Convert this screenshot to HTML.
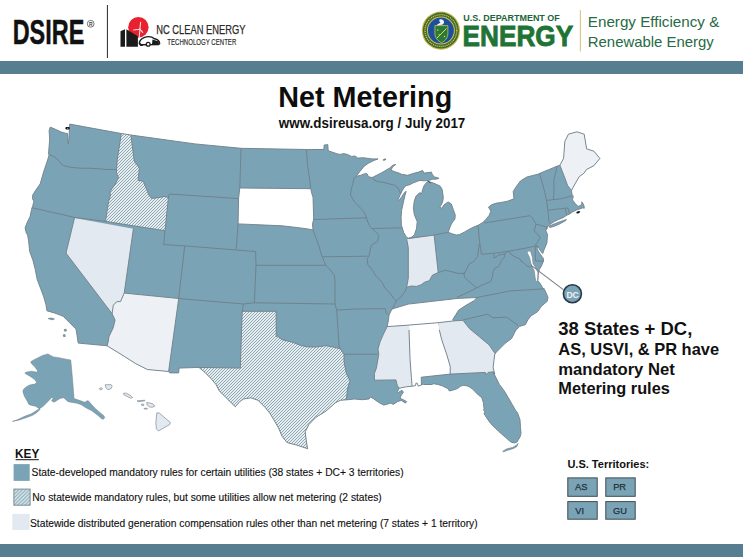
<!DOCTYPE html>
<html><head><meta charset="utf-8"><title>Net Metering</title>
<style>
html,body{margin:0;padding:0;background:#fff;}
body{width:743px;height:557px;overflow:hidden;position:relative;font-family:"Liberation Sans",sans-serif;}
svg{position:absolute;left:0;top:0;}
text{font-family:"Liberation Sans",sans-serif;}
</style></head><body>
<svg width="743" height="557" viewBox="0 0 743 557">
<defs>
<pattern id="hatch" patternUnits="userSpaceOnUse" width="3" height="3">
<rect width="3" height="3" fill="#e3eff2"/>
<path d="M-1,1 L1,-1 M0,3 L3,0 M2,4 L4,2" stroke="#8a9ca4" stroke-width="0.9"/>
</pattern>
<pattern id="hatch2" patternUnits="userSpaceOnUse" width="3.6" height="3.6" x="0.5" y="0.3">
<rect width="3.6" height="3.6" fill="#d8ecf2"/>
<path d="M-1,1 L1,-1 M0,3.6 L3.6,0 M2.6,4.6 L4.6,2.6" stroke="#86a2ad" stroke-width="1.1"/>
</pattern>
</defs>
<rect width="743" height="557" fill="#fff"/>
<!-- header -->
<text x="12.7" y="43.7" font-size="35.6" font-weight="bold" fill="#111" stroke="#111" stroke-width="0.5" textLength="71.6" lengthAdjust="spacingAndGlyphs">DSIRE</text>
<circle cx="90.7" cy="23.8" r="3.4" fill="none" stroke="#555" stroke-width="0.8"/>
<text x="90.7" y="25.6" font-size="5" font-weight="bold" text-anchor="middle" fill="#444">R</text>
<rect x="106.9" y="5" width="1.1" height="53" fill="#3a3a3a"/>
<!-- NC clean energy logo -->
<circle cx="138.4" cy="27.3" r="10.2" fill="#e8202f"/>
<g stroke="#fbe2e3" stroke-width="1.1" stroke-linecap="round" fill="none"><line x1="139.9" y1="29.2" x2="139.3" y2="37"/><line x1="139.9" y1="29.2" x2="140.6" y2="22.2"/><line x1="139.9" y1="29.2" x2="133.6" y2="30"/><line x1="139.9" y1="29.2" x2="142.7" y2="32.4"/></g>
<path d="M120.5,31.2 L125,29.2 L125,46.7 L120.5,46.7 Z" fill="#1c1a1b"/>
<path d="M126.4,29.2 L137.9,36.2 L137.9,46.7 L126.4,46.7 Z" fill="#1c1a1b"/>
<path d="M139.3,43.5 C139.5,40.5 141.5,38.6 144.5,37.4 C148,36.2 152,36.6 154.5,38.8 C157.5,39.4 159.6,40.8 159.6,43.6 L158.5,44.6 L140.5,44.8 Z" fill="#fff" stroke="#1c1a1b" stroke-width="1.4"/>
<path d="M139,40.5 C140,43 141.5,45 143.5,46 L140.5,46 C139.2,44.5 138.8,42.5 139,40.5 Z" fill="#1c1a1b"/>
<path d="M152.5,39.5 L158.8,41.5 L158.8,44 L152,44 Z" fill="#1c1a1b"/>
<circle cx="148.2" cy="44.3" r="1.9" fill="#fff" stroke="#1c1a1b" stroke-width="1.3"/>
<text x="156.2" y="34.3" font-size="12.6" fill="#2a2a2a" stroke="#2a2a2a" stroke-width="0.25" textLength="89.2" lengthAdjust="spacingAndGlyphs">NC CLEAN ENERGY</text>
<text x="167.3" y="45.4" font-size="8.4" fill="#2a2a2a" stroke="#2a2a2a" stroke-width="0.15" textLength="69" lengthAdjust="spacingAndGlyphs">TECHNOLOGY CENTER</text>
<!-- DOE seal -->
<circle cx="440.9" cy="30.6" r="19.1" fill="#c9b84e"/>
<circle cx="440.9" cy="30.6" r="18" fill="#3d6a2c"/>
<circle cx="440.9" cy="30.6" r="15.9" fill="none" stroke="#d7c55a" stroke-width="1.3" stroke-dasharray="1.1 0.9"/>
<circle cx="440.9" cy="30.6" r="14" fill="#d2bf55"/>
<circle cx="440.9" cy="30.6" r="13" fill="#1c4f9d"/>
<path d="M434.9,25.6 L447.9,25.6 L447.9,33.5 C447.9,38 445,41 441.5,42.8 C438,41 434.9,38 434.9,33.5 Z" fill="#2a7a33" stroke="#e2cf62" stroke-width="0.7"/>
<path d="M437,38 L446.5,28.5" stroke="#e8d66a" stroke-width="1"/>
<circle cx="437.8" cy="30" r="0.7" fill="#e8d66a"/><circle cx="444.5" cy="36.5" r="0.7" fill="#e8d66a"/><circle cx="439" cy="34.5" r="0.6" fill="#e8d66a"/>
<path d="M439.5,19.5 C441.5,18.8 443.8,19.8 444,21.8 C444.2,23.6 443,24.6 441.8,24.8 L436.5,25.4 C437.5,24 439.5,23.6 440.5,22.6 C439.5,22 439,20.8 439.5,19.5 Z" fill="#f4f4f4"/>
<text x="463.3" y="21" font-size="9.4" font-weight="bold" fill="#22643a" textLength="96.5" lengthAdjust="spacingAndGlyphs">U.S. DEPARTMENT OF</text>
<text x="462.6" y="45.9" font-size="29.5" font-weight="bold" fill="#1f7435" textLength="110.5" lengthAdjust="spacingAndGlyphs" stroke="#1f7435" stroke-width="0.9">ENERGY</text>
<rect x="579.8" y="10" width="1.2" height="41.5" fill="#d9cc8a"/>
<text x="587.8" y="26.7" font-size="15" fill="#276a45" textLength="131.5" lengthAdjust="spacingAndGlyphs">Energy Efficiency &amp;</text>
<text x="587.8" y="46.5" font-size="15" fill="#276a45" textLength="126" lengthAdjust="spacingAndGlyphs">Renewable Energy</text>
<!-- top bar -->
<rect x="0" y="61" width="743" height="13" fill="#577d91"/>
<!-- title -->
<text x="278.2" y="106.7" font-size="29.4" font-weight="bold" fill="#0d0d0d" textLength="174" lengthAdjust="spacingAndGlyphs">Net Metering</text>
<text x="278.8" y="127.6" font-size="14.6" font-weight="bold" fill="#111" textLength="186.5" lengthAdjust="spacingAndGlyphs">www.dsireusa.org / July 2017</text>
<!-- map -->
<g>
<path d="M50.3,127.1 L55.8,129.5 L61.2,132.0 L65.4,133.2 L67.4,133.4 L67.9,139.2 L68.3,143.5 L68.9,139.0 L69.2,133.0 L69.7,124.1 L121.3,133.5 L130.9,135.0 L195.0,143.9 L241.0,148.3 L306.4,149.5 L323.9,149.5 L324.1,145.1 L327.8,144.6 L328.2,150.7 L333.0,152.4 L337.8,154.0 L340.2,154.4 L343.5,153.6 L347.5,154.4 L351.5,156.4 L355.0,156.0 L357.8,158.1 L363.4,157.7 L365.8,158.1 L372.3,158.9 L378.0,158.9 L373.9,160.5 L368.3,163.3 L364.2,166.2 L360.2,171.0 L356.2,176.3 L360.2,175.4 L365.8,173.4 L367.5,174.2 L368.3,176.7 L372.3,177.5 L377.2,175.0 L382.0,172.6 L386.0,170.2 L390.1,167.8 L392.5,165.3 L395.7,164.5 L392.5,167.0 L390.9,170.2 L394.9,171.8 L400.0,173.4 L401.2,174.2 L407.7,175.3 L413.1,173.5 L418.4,172.1 L422.7,170.5 L423.8,173.1 L428.1,172.6 L431.4,172.1 L432.4,174.8 L434.6,176.9 L438.9,178.2 L436.7,179.1 L432.4,179.3 L428.0,180.6 L423.9,180.8 L419.9,180.4 L416.7,181.6 L413.4,182.8 L410.2,184.5 L406.2,185.7 L404.5,186.9 L402.1,190.9 L399.7,195.8 L398.1,199.8 L398.9,200.6 L401.3,197.4 L404.5,192.5 L406.2,191.3 L405.3,194.2 L404.1,199.0 L402.9,204.7 L401.6,210.3 L401.1,217.7 L401.4,225.1 L403.7,232.5 L406.4,237.2 L408.5,238.2 L411.8,237.2 L414.5,234.5 L416.5,228.5 L417.2,221.7 L414.2,214.3 L413.4,207.9 L414.2,201.4 L415.8,196.6 L417.9,194.2 L420.3,192.5 L420.7,194.2 L421.9,192.5 L422.7,189.3 L423.9,186.1 L425.5,183.7 L428.0,181.2 L428.8,181.6 L432.8,182.8 L436.8,184.5 L440.1,186.1 L442.1,189.3 L442.9,194.2 L443.3,198.2 L442.5,202.2 L440.9,205.5 L439.7,207.1 L441.7,208.3 L444.1,204.7 L446.5,203.0 L448.1,201.9 L451.3,203.9 L453.3,209.5 L455.3,215.2 L454.9,219.2 L452.9,221.7 L451.3,224.1 L449.7,228.1 L448.1,232.2 L452.1,233.8 L456.2,235.0 L459.4,234.6 L464.2,232.2 L469.9,228.9 L473.9,226.9 L478.0,225.3 L482.8,222.5 L486.0,219.2 L489.3,215.2 L490.9,211.2 L488.5,207.1 L491.7,204.7 L496.5,203.1 L500.0,202.7 L507.5,201.2 L514.0,198.8 L513.2,191.5 L515.6,187.5 L520.4,181.0 L526.9,177.0 L539.8,173.7 L539.4,173.5 L557.0,166.2 L559.9,165.2 L563.6,158.4 L564.8,141.5 L568.4,134.2 L576.9,131.8 L584.2,134.2 L586.6,148.8 L593.9,151.2 L599.9,158.4 L593.9,165.7 L586.6,169.4 L584.2,173.0 L579.3,176.6 L575.7,182.7 L571.5,190.4 L571.9,194.1 L573.3,196.5 L572.4,199.8 L575.2,203.6 L578.0,206.4 L580.9,205.4 L582.3,202.6 L581.3,202.1 L582.8,203.1 L584.2,206.4 L584.2,208.3 L582.8,207.8 L579.0,209.2 L576.2,210.1 L572.4,212.0 L569.6,213.9 L566.7,215.3 L563.0,217.7 L558.3,219.6 L554.5,221.5 L551.7,223.3 L548.8,225.2 L547.0,227.1 L546.0,229.0 L547.6,227.5 L545.8,230.7 L547.5,234.4 L546.9,242.9 L543.9,250.1 L542.7,253.6 L541.0,251.5 L539.0,248.5 L537.6,246.5 L537.2,248.5 L538.6,251.8 L540.8,255.0 L543.4,258.5 L543.5,261.0 L541.5,265.9 L539.3,269.5 L538.2,274.0 L537.8,278.0 L537.6,280.5 L539.7,282.8 L542.7,287.8 L544.7,289.8 L548.0,297.3 L547.2,301.3 L541.6,306.1 L537.5,311.8 L531.1,315.8 L527.8,319.9 L525.4,324.7 L519.8,326.3 L515.7,330.4 L513.3,335.2 L511.7,338.4 L505.2,343.3 L500.4,348.1 L496.3,352.2 L494.7,354.6 L493.9,361.1 L493.1,367.5 L494.7,374.0 L493.0,371.6 L496.2,378.1 L499.4,384.5 L504.3,391.0 L509.1,399.1 L512.4,404.7 L515.6,410.4 L517.5,412.8 L520.0,419.7 L520.5,427.6 L521.0,433.6 L520.0,437.0 L518.5,439.5 L517.0,442.0 L514.6,442.9 L511.6,442.4 L509.6,441.0 L505.7,437.5 L501.7,434.1 L498.8,431.6 L495.8,428.6 L493.8,426.7 L490.9,423.7 L487.9,419.7 L485.4,415.8 L484.0,413.8 L484.9,411.8 L483.5,409.9 L484.1,408.8 L483.3,402.3 L481.7,397.5 L478.4,395.0 L475.2,391.8 L472.0,388.6 L468.0,386.1 L463.9,385.3 L460.7,386.1 L457.5,388.6 L452.6,390.2 L449.4,391.0 L447.8,388.6 L442.9,386.1 L438.1,384.5 L433.2,383.7 L432.1,384.5 L423.6,384.5 L422.9,384.2 L421.5,384.9 L418.2,386.2 L417.5,383.6 L416.1,382.9 L415.5,385.6 L412.1,386.2 L405.4,386.9 L399.3,388.3 L397.3,391.6 L398.6,392.3 L402.0,390.3 L403.4,392.3 L401.3,395.0 L400.0,398.4 L403.4,399.7 L406.7,401.7 L405.4,403.1 L401.3,400.4 L397.3,401.7 L393.3,404.4 L390.6,403.1 L386.5,404.4 L383.8,405.1 L379.8,403.1 L375.8,400.4 L373.1,398.4 L370.4,397.0 L369.0,399.0 L362.3,399.7 L354.2,399.0 L348.2,399.7 L340.3,400.3 L335.5,402.7 L325.8,411.2 L316.1,417.2 L308.9,424.5 L305.2,431.7 L306.4,441.4 L307.6,448.7 L296.7,445.1 L287.1,442.6 L282.2,436.6 L278.6,428.1 L273.7,419.6 L270.1,413.6 L265.3,407.5 L258.0,400.3 L250.7,397.8 L243.4,399.0 L239.8,401.5 L235.3,406.8 L231.2,402.8 L225.2,396.7 L219.1,390.7 L216.1,384.6 L211.0,378.6 L205.0,372.5 L198.9,367.4 L179.1,368.1 L178.7,372.9 L169.7,372.9 L168.6,371.5 L147.4,369.5 L135.3,363.4 L124.2,356.3 L107.1,345.8 L78.2,343.1 L77.1,335.6 L76.0,329.1 L72.8,325.9 L69.6,322.7 L66.3,319.4 L63.1,316.2 L58.8,314.6 L54.5,313.0 L50.7,311.9 L46.9,310.8 L45.9,304.4 L43.7,296.8 L40.5,288.2 L37.2,279.6 L35.1,268.8 L32.9,260.2 L29.7,251.6 L28.6,240.8 L27.6,235.0 L26.3,232.9 L25.1,227.9 L27.0,222.8 L30.1,216.5 L31.4,210.3 L32.0,207.7 L32.6,206.5 L33.9,201.4 L32.6,198.9 L32.6,195.2 L35.8,190.1 L40.2,183.8 L42.0,177.5 L43.6,172.0 L44.8,168.3 L47.3,161.0 L49.1,155.0 L48.5,153.8 L49.7,139.2 L49.1,130.7 Z" fill="#7ba3b6"/>
<path d="M548.8,226.2 L554.5,223.8 L561.1,221.3 L566.3,219.4 L565.8,220.5 L560.1,223.8 L554.5,226.2 L549.8,227.6 Z" fill="#7ba3b6" stroke="#6f7f88" stroke-width="0.8"/>
<path d="M502.7,451.3 L506.7,448.9 L512.6,447.4 L516.0,445.4 L518.0,443.4 L517.0,446.4 L513.6,448.4 L507.6,450.3 L503.7,451.8 Z" fill="#7ba3b6" stroke="#6f7f88" stroke-width="0.6"/>
<path d="M74.5,218.0 L133.4,228.7 L124.2,293.1 L120.5,301.6 L116.9,301.6 L113.3,305.2 L112.1,313.7 L66.0,253.1 Z" fill="#e2e9f0"/>
<path d="M124.2,293.1 L178.7,298.5 L168.6,371.5 L147.4,369.5 L135.3,363.4 L124.2,356.3 L107.1,345.8 L108.1,342.2 L109.1,336.2 L113.1,328.1 L115.1,320.0 L112.1,313.7 L113.3,305.2 L116.9,301.6 L120.5,301.6 Z" fill="#edf1f6"/>
<path d="M121.3,133.5 L131.0,135.0 L134.1,160.0 L135.4,162.7 L139.4,168.1 L138.1,180.2 L143.5,181.5 L145.5,186.9 L148.9,195.0 L151.6,198.4 L158.3,197.7 L165.0,196.4 L168.4,197.7 L165.0,230.7 L133.4,225.8 L105.1,221.3 L105.8,219.3 L108.5,201.8 L110.5,195.0 L109.8,192.3 L111.8,189.0 L115.2,184.2 L118.6,177.5 L116.5,173.5 L116.5,169.4 L117.2,160.0 Z" fill="url(#hatch)"/>
<path d="M239.8,188.0 L310.8,188.7 L311.8,193.6 L313.0,197.2 L313.7,219.0 L312.5,223.9 L313.0,229.9 L306.4,228.7 L296.7,227.5 L282.2,225.8 L238.1,223.9 L238.6,198.4 Z" fill="#ffffff"/>
<path d="M242.2,311.3 L276.2,311.3 L276.2,336.7 L277.4,336.1 L282.2,339.7 L291.9,342.1 L301.6,345.7 L308.9,347.0 L316.1,347.0 L325.8,345.7 L333.1,347.0 L340.3,348.9 L344.0,354.2 L344.0,361.5 L346.4,373.6 L350.0,380.9 L347.6,388.1 L346.4,399.0 L340.3,400.3 L335.5,402.7 L325.8,411.2 L316.1,417.2 L308.9,424.5 L305.2,431.7 L306.4,441.4 L307.6,448.7 L296.7,445.1 L287.1,442.6 L282.2,436.6 L278.6,428.1 L273.7,419.6 L270.1,413.6 L265.3,407.5 L258.0,400.3 L250.7,397.8 L243.4,399.0 L239.8,401.5 L235.3,406.8 L231.2,402.8 L225.2,396.7 L219.1,390.7 L216.1,384.6 L211.0,378.6 L205.0,372.5 L198.9,367.4 L240.3,368.1 Z" fill="url(#hatch)"/>
<path d="M406.7,239.2 L434.1,235.0 L438.2,272.6 L432.5,275.1 L429.3,280.7 L424.4,282.3 L421.2,284.8 L416.4,286.4 L411.5,286.0 L406.7,287.2 L408.3,278.3 L408.3,247.6 Z" fill="#e2e9f0"/>
<path d="M392.1,309.0 L408.3,304.1 L457.0,298.5 L476.8,297.5 L474.4,300.4 L466.0,305.3 L458.7,310.1 L452.6,319.8 L452.6,321.0 L438.1,322.7 L409.0,325.1 L387.2,326.6 L388.5,319.8 L389.0,315.0 L391.0,311.0 Z" fill="#ffffff"/>
<path d="M387.2,326.6 L409.0,325.1 L410.1,360.0 L411.4,377.5 L412.1,386.2 L405.4,386.9 L399.3,388.3 L397.3,385.6 L395.9,379.9 L374.4,380.2 L374.4,373.5 L376.4,368.1 L377.8,360.0 L378.8,354.2 L378.0,349.0 L380.0,342.0 L383.0,335.0 Z" fill="#e2e9f0"/>
<path d="M409.0,325.1 L438.1,322.7 L441.7,339.7 L446.6,354.2 L450.2,366.3 L450.2,374.1 L421.2,377.2 L421.5,384.9 L418.2,386.2 L417.5,383.6 L416.1,382.9 L415.5,385.6 L412.1,386.2 L411.4,377.5 L410.1,360.0 Z" fill="#ffffff"/>
<path d="M438.1,322.7 L452.6,321.0 L463.2,320.3 L463.2,320.7 L469.7,328.8 L479.4,336.8 L489.1,344.9 L494.7,353.0 L493.9,361.1 L493.1,367.5 L494.7,374.0 L493.0,371.9 L488.1,372.4 L485.7,374.8 L485.3,372.4 L450.2,374.1 L450.2,366.3 L446.6,354.2 L441.7,339.7 Z" fill="#e2e9f0"/>
<path d="M559.9,165.2 L563.6,158.4 L564.8,141.5 L568.4,134.2 L576.9,131.8 L584.2,134.2 L586.6,148.8 L593.9,151.2 L599.9,158.4 L593.9,165.7 L586.6,169.4 L584.2,173.0 L579.3,176.6 L575.7,182.7 L571.5,190.4 L567.7,185.7 L564.8,177.8 Z" fill="#edf1f6"/>
<path d="M528.0,251.0 L530.6,251.3 L532.4,257.4 L533.0,263.5 L536.0,268.3 L537.8,271.9 L538.4,278.0 L537.6,281.0 L536.0,281.8 L535.2,278.0 L534.2,270.7 L531.8,265.9 L530.6,262.2 L529.6,257.4 L527.2,252.8 Z" fill="#fff" stroke="#6f7f88" stroke-width="0.6"/>
<path d="M49.1,154.5 L53.3,156.2 L58.2,159.8 L61.8,164.7 L66.6,166.5 L73.9,167.7 L82.4,168.3 L90.9,168.3 L100.6,168.9 L107.8,169.5 L116.5,169.4 M121.3,133.5 L117.2,160.0 L116.5,169.4 M116.5,169.4 L116.5,173.5 L118.6,177.5 L115.2,184.2 L111.8,189.0 L109.8,192.3 L110.5,195.0 L108.5,201.8 L105.8,219.3 L105.1,221.3 M32.0,207.7 L74.5,217.4 L105.1,221.3 M105.1,221.3 L133.4,225.8 L165.0,230.7 M74.5,218.0 L66.0,253.1 L112.1,313.7 M133.4,228.7 L124.2,293.1 M124.2,293.1 L120.5,301.6 L116.9,301.6 L113.3,305.2 L112.1,313.7 M112.1,313.7 L115.1,320.0 L113.1,328.1 L109.1,336.2 L108.1,342.2 L107.1,345.8 M130.9,135.0 L134.1,160.0 L135.4,162.7 L139.4,168.1 L138.1,180.2 L143.5,181.5 L145.5,186.9 L148.9,195.0 L151.6,198.4 L158.3,197.7 L165.0,196.4 L168.4,197.7 M168.4,197.7 L165.0,230.7 M165.0,230.7 L163.6,244.6 L184.7,245.9 M184.7,245.9 L236.2,250.0 M184.7,245.9 L178.7,298.5 M124.2,293.1 L178.7,298.5 M178.7,298.5 L168.6,371.5 M178.7,298.5 L243.4,304.0 M243.4,304.0 L242.2,311.3 M242.2,311.3 L240.3,368.1 L198.9,367.4 M168.4,197.7 L169.4,194.0 L238.6,198.6 M241.0,148.3 L239.8,188.0 L238.6,198.4 M238.6,198.4 L238.1,223.9 L236.2,249.5 M239.8,188.0 L310.8,188.7 M306.4,149.5 L307.6,165.7 L310.1,182.7 L310.8,188.7 L311.8,193.6 L313.0,197.2 L313.7,219.0 L312.5,223.9 L313.0,229.9 M238.1,223.9 L282.2,225.8 L296.7,227.5 L306.4,228.7 L313.0,229.9 M236.2,250.0 L255.6,251.5 L256.0,265.3 M256.0,265.3 L325.8,265.3 M313.0,229.9 L314.9,235.0 L318.5,244.7 L322.2,256.8 L325.8,265.3 L329.4,268.9 L334.3,275.0 L335.0,281.0 L335.0,304.0 L336.7,310.1 L339.1,346.4 L340.3,348.9 M322.2,256.8 L367.6,256.2 M256.0,265.3 L254.4,302.8 M243.4,304.0 L254.4,302.8 L335.0,304.0 M242.2,311.3 L276.2,311.3 L276.2,336.7 L277.4,336.1 L282.2,339.7 L291.9,342.1 L301.6,345.7 L308.9,347.0 L316.1,347.0 L325.8,345.7 L333.1,347.0 L340.3,348.9 L344.0,354.2 M344.0,354.2 L344.0,361.5 L346.4,373.6 L350.0,380.9 L347.6,388.1 L346.4,399.0 M344.0,354.2 L377.5,354.2 M336.7,310.1 L355.0,309.0 L385.4,308.7 L386.0,313.0 L389.0,315.0 M313.7,219.5 L366.6,217.8 M356.2,176.3 L353.7,179.1 L352.9,183.9 L351.3,188.8 L350.5,195.0 L354.5,202.1 L361.8,209.3 L363.5,211.5 L365.4,214.8 L367.8,222.1 L370.2,226.9 L375.0,231.2 L378.7,235.4 L377.5,241.4 L371.4,245.1 L370.2,249.9 L369.0,256.0 L367.2,258.4 L367.8,264.5 L372.6,270.5 L376.3,276.6 L381.6,281.5 L384.9,288.0 L389.7,292.8 L393.8,298.5 L396.2,300.9 M372.0,228.5 L401.5,227.8 M372.3,177.5 L373.9,179.9 L378.0,181.5 L382.8,182.3 L388.5,183.7 L394.8,185.3 L398.1,188.0 L399.7,191.0 L400.4,193.8 M408.5,238.4 L433.0,235.3 L441.0,233.6 L448.4,232.4 M406.7,239.2 L408.3,247.6 L408.3,278.3 L406.7,287.2 M434.1,235.0 L438.2,272.6 M396.2,300.9 L401.8,296.1 L405.1,291.2 L406.7,287.2 L411.5,286.0 L416.4,286.4 L421.2,284.8 L424.4,282.3 L429.3,280.7 L432.5,275.1 L438.2,272.6 L445.4,270.2 L451.9,271.8 L458.4,273.4 L464.8,273.4 L463.9,274.1 L467.1,268.4 L468.8,264.4 L472.8,262.0 L475.2,259.6 L477.6,256.3 L479.3,244.2 M478.0,225.3 L479.4,240.0 L480.5,248.0 L481.5,254.2 M481.5,254.2 L493.6,253.3 L506.0,251.7 L520.0,249.2 L533.4,246.6 M493.6,253.3 L494.2,258.0 L499.1,255.0 L502.7,254.4 L505.1,253.8 M505.1,253.8 L504.5,256.8 L501.5,260.4 L499.1,265.9 L497.3,267.1 L494.8,268.3 L493.0,271.9 L492.4,276.8 L490.6,281.6 L487.0,283.0 L483.3,284.6 L476.8,287.8 M463.9,274.1 L464.7,277.3 L468.8,281.4 L473.6,285.4 L476.8,287.8 M476.8,287.8 L470.4,291.1 L463.9,294.3 L457.0,297.2 M396.2,300.9 L394.6,304.1 L392.1,309.0 L408.3,304.1 L457.0,298.5 M457.0,298.5 L476.8,297.5 L510.4,290.9 L544.7,288.8 M505.1,253.8 L507.5,251.3 L510.0,252.5 L511.8,255.0 L516.0,257.4 L519.7,258.6 L520.9,261.0 L524.5,263.5 L526.9,265.9 L529.4,267.1 L531.5,266.5 M535.2,246.0 L535.4,261.0 L543.4,261.0 M533.4,246.6 L535.2,246.0 L537.6,246.5 M530.1,215.7 L532.4,218.0 L536.0,224.1 L534.2,230.7 L540.3,237.4 L537.8,241.6 L535.4,244.7 L537.6,246.5 M484.1,223.0 L530.1,215.7 M536.0,224.1 L547.2,227.2 M539.4,173.5 L541.3,180.0 L544.1,189.4 L546.5,200.4 M557.0,166.2 L553.9,180.3 L554.0,187.5 L553.5,199.6 M546.5,200.4 L553.5,199.6 L560.6,198.8 L566.0,197.5 L571.7,195.8 M559.9,165.2 L564.8,177.8 L567.7,185.7 L571.5,190.4 M546.5,200.4 L547.9,210.1 L548.8,221.5 L549.8,223.3 M547.9,210.1 L564.9,208.3 L567.7,207.8 M565.3,208.3 L566.7,214.9 M567.7,207.8 L569.6,213.9 M387.2,326.6 L409.0,325.1 L438.1,322.7 L452.6,321.0 L463.2,320.3 M476.8,297.5 L474.4,300.4 L466.0,305.3 L458.7,310.1 L452.6,319.8 M389.0,315.0 L388.5,319.8 L387.2,326.6 L383.0,335.0 L380.0,342.0 L378.0,349.0 L378.8,354.2 L377.8,360.0 L376.4,368.1 L374.4,373.5 L374.4,380.2 L395.9,379.9 L397.3,385.6 L399.3,388.3 M389.0,315.0 L391.0,311.0 L392.1,309.0 M409.0,330.0 L410.1,360.0 L411.4,377.5 L412.1,386.2 M439.3,330.0 L441.7,339.7 L446.6,354.2 L450.2,366.3 L450.2,374.1 M421.2,377.2 L450.2,374.1 L485.3,372.4 L485.7,374.8 L488.1,372.4 L493.0,371.9 M421.2,377.2 L421.5,384.9 M463.2,320.7 L469.7,328.8 L479.4,336.8 L489.1,344.9 L494.7,353.0 M463.2,319.9 L487.5,314.2 L493.1,317.8 L506.8,317.1 L518.1,325.5" fill="none" stroke="#6f7f88" stroke-width="0.9" stroke-linejoin="round"/>
<path d="M50.3,127.1 L55.8,129.5 L61.2,132.0 L65.4,133.2 L67.4,133.4 L67.9,139.2 L68.3,143.5 L68.9,139.0 L69.2,133.0 L69.7,124.1 L121.3,133.5 L130.9,135.0 L195.0,143.9 L241.0,148.3 L306.4,149.5 L323.9,149.5 L324.1,145.1 L327.8,144.6 L328.2,150.7 L333.0,152.4 L337.8,154.0 L340.2,154.4 L343.5,153.6 L347.5,154.4 L351.5,156.4 L355.0,156.0 L357.8,158.1 L363.4,157.7 L365.8,158.1 L372.3,158.9 L378.0,158.9 L373.9,160.5 L368.3,163.3 L364.2,166.2 L360.2,171.0 L356.2,176.3 L360.2,175.4 L365.8,173.4 L367.5,174.2 L368.3,176.7 L372.3,177.5 L377.2,175.0 L382.0,172.6 L386.0,170.2 L390.1,167.8 L392.5,165.3 L395.7,164.5 L392.5,167.0 L390.9,170.2 L394.9,171.8 L400.0,173.4 L401.2,174.2 L407.7,175.3 L413.1,173.5 L418.4,172.1 L422.7,170.5 L423.8,173.1 L428.1,172.6 L431.4,172.1 L432.4,174.8 L434.6,176.9 L438.9,178.2 L436.7,179.1 L432.4,179.3 L428.0,180.6 L423.9,180.8 L419.9,180.4 L416.7,181.6 L413.4,182.8 L410.2,184.5 L406.2,185.7 L404.5,186.9 L402.1,190.9 L399.7,195.8 L398.1,199.8 L398.9,200.6 L401.3,197.4 L404.5,192.5 L406.2,191.3 L405.3,194.2 L404.1,199.0 L402.9,204.7 L401.6,210.3 L401.1,217.7 L401.4,225.1 L403.7,232.5 L406.4,237.2 L408.5,238.2 L411.8,237.2 L414.5,234.5 L416.5,228.5 L417.2,221.7 L414.2,214.3 L413.4,207.9 L414.2,201.4 L415.8,196.6 L417.9,194.2 L420.3,192.5 L420.7,194.2 L421.9,192.5 L422.7,189.3 L423.9,186.1 L425.5,183.7 L428.0,181.2 L428.8,181.6 L432.8,182.8 L436.8,184.5 L440.1,186.1 L442.1,189.3 L442.9,194.2 L443.3,198.2 L442.5,202.2 L440.9,205.5 L439.7,207.1 L441.7,208.3 L444.1,204.7 L446.5,203.0 L448.1,201.9 L451.3,203.9 L453.3,209.5 L455.3,215.2 L454.9,219.2 L452.9,221.7 L451.3,224.1 L449.7,228.1 L448.1,232.2 L452.1,233.8 L456.2,235.0 L459.4,234.6 L464.2,232.2 L469.9,228.9 L473.9,226.9 L478.0,225.3 L482.8,222.5 L486.0,219.2 L489.3,215.2 L490.9,211.2 L488.5,207.1 L491.7,204.7 L496.5,203.1 L500.0,202.7 L507.5,201.2 L514.0,198.8 L513.2,191.5 L515.6,187.5 L520.4,181.0 L526.9,177.0 L539.8,173.7 L539.4,173.5 L557.0,166.2 L559.9,165.2 L563.6,158.4 L564.8,141.5 L568.4,134.2 L576.9,131.8 L584.2,134.2 L586.6,148.8 L593.9,151.2 L599.9,158.4 L593.9,165.7 L586.6,169.4 L584.2,173.0 L579.3,176.6 L575.7,182.7 L571.5,190.4 L571.9,194.1 L573.3,196.5 L572.4,199.8 L575.2,203.6 L578.0,206.4 L580.9,205.4 L582.3,202.6 L581.3,202.1 L582.8,203.1 L584.2,206.4 L584.2,208.3 L582.8,207.8 L579.0,209.2 L576.2,210.1 L572.4,212.0 L569.6,213.9 L566.7,215.3 L563.0,217.7 L558.3,219.6 L554.5,221.5 L551.7,223.3 L548.8,225.2 L547.0,227.1 L546.0,229.0 L547.6,227.5 L545.8,230.7 L547.5,234.4 L546.9,242.9 L543.9,250.1 L542.7,253.6 L541.0,251.5 L539.0,248.5 L537.6,246.5 L537.2,248.5 L538.6,251.8 L540.8,255.0 L543.4,258.5 L543.5,261.0 L541.5,265.9 L539.3,269.5 L538.2,274.0 L537.8,278.0 L537.6,280.5 L539.7,282.8 L542.7,287.8 L544.7,289.8 L548.0,297.3 L547.2,301.3 L541.6,306.1 L537.5,311.8 L531.1,315.8 L527.8,319.9 L525.4,324.7 L519.8,326.3 L515.7,330.4 L513.3,335.2 L511.7,338.4 L505.2,343.3 L500.4,348.1 L496.3,352.2 L494.7,354.6 L493.9,361.1 L493.1,367.5 L494.7,374.0 L493.0,371.6 L496.2,378.1 L499.4,384.5 L504.3,391.0 L509.1,399.1 L512.4,404.7 L515.6,410.4 L517.5,412.8 L520.0,419.7 L520.5,427.6 L521.0,433.6 L520.0,437.0 L518.5,439.5 L517.0,442.0 L514.6,442.9 L511.6,442.4 L509.6,441.0 L505.7,437.5 L501.7,434.1 L498.8,431.6 L495.8,428.6 L493.8,426.7 L490.9,423.7 L487.9,419.7 L485.4,415.8 L484.0,413.8 L484.9,411.8 L483.5,409.9 L484.1,408.8 L483.3,402.3 L481.7,397.5 L478.4,395.0 L475.2,391.8 L472.0,388.6 L468.0,386.1 L463.9,385.3 L460.7,386.1 L457.5,388.6 L452.6,390.2 L449.4,391.0 L447.8,388.6 L442.9,386.1 L438.1,384.5 L433.2,383.7 L432.1,384.5 L423.6,384.5 L422.9,384.2 L421.5,384.9 L418.2,386.2 L417.5,383.6 L416.1,382.9 L415.5,385.6 L412.1,386.2 L405.4,386.9 L399.3,388.3 L397.3,391.6 L398.6,392.3 L402.0,390.3 L403.4,392.3 L401.3,395.0 L400.0,398.4 L403.4,399.7 L406.7,401.7 L405.4,403.1 L401.3,400.4 L397.3,401.7 L393.3,404.4 L390.6,403.1 L386.5,404.4 L383.8,405.1 L379.8,403.1 L375.8,400.4 L373.1,398.4 L370.4,397.0 L369.0,399.0 L362.3,399.7 L354.2,399.0 L348.2,399.7 L340.3,400.3 L335.5,402.7 L325.8,411.2 L316.1,417.2 L308.9,424.5 L305.2,431.7 L306.4,441.4 L307.6,448.7 L296.7,445.1 L287.1,442.6 L282.2,436.6 L278.6,428.1 L273.7,419.6 L270.1,413.6 L265.3,407.5 L258.0,400.3 L250.7,397.8 L243.4,399.0 L239.8,401.5 L235.3,406.8 L231.2,402.8 L225.2,396.7 L219.1,390.7 L216.1,384.6 L211.0,378.6 L205.0,372.5 L198.9,367.4 L179.1,368.1 L178.7,372.9 L169.7,372.9 L168.6,371.5 L147.4,369.5 L135.3,363.4 L124.2,356.3 L107.1,345.8 L78.2,343.1 L77.1,335.6 L76.0,329.1 L72.8,325.9 L69.6,322.7 L66.3,319.4 L63.1,316.2 L58.8,314.6 L54.5,313.0 L50.7,311.9 L46.9,310.8 L45.9,304.4 L43.7,296.8 L40.5,288.2 L37.2,279.6 L35.1,268.8 L32.9,260.2 L29.7,251.6 L28.6,240.8 L27.6,235.0 L26.3,232.9 L25.1,227.9 L27.0,222.8 L30.1,216.5 L31.4,210.3 L32.0,207.7 L32.6,206.5 L33.9,201.4 L32.6,198.9 L32.6,195.2 L35.8,190.1 L40.2,183.8 L42.0,177.5 L43.6,172.0 L44.8,168.3 L47.3,161.0 L49.1,155.0 L48.5,153.8 L49.7,139.2 L49.1,130.7 Z" fill="none" stroke="#6f7f88" stroke-width="0.9" stroke-linejoin="round"/>
<path d="M48.2,318.6 L51,318 L54.4,318.9 L52,319.8 Z M64.2,329.6 L66.2,329.2 L66.4,331 L64.6,331.2 Z M63.2,334.8 L65,334.6 L65.3,336.5 L63.6,336.6 Z" fill="#7ba3b6" stroke="#6f7f88" stroke-width="0.7"/>
<path d="M30.7,361.8 L33.7,359.9 L37.6,357.9 L42.6,355.4 L48.0,353.9 L50.5,355.4 L53.4,356.9 L57.4,357.4 L62.3,358.4 L67.3,359.4 L70.7,359.9 L71.7,369.7 L72.7,381.6 L73.5,391.5 L74.0,398.5 L77.0,399.6 L80.7,400.8 L84.4,402.3 L88.1,400.6 L94.7,408.0 L100.7,413.2 L103.6,415.4 L104.8,417.6 L103.4,419.2 L101.6,418.8 L97.7,415.2 L91.8,410.8 L85.9,407.8 L81.4,404.8 L77.0,403.2 L72.5,402.5 L68.1,401.7 L63.7,397.8 L60.0,398.4 L56.8,400.6 L54.0,402.2 L51.6,400.8 L53.4,397.8 L51.8,397.4 L49.2,400.2 L46.0,403.5 L42.9,406.5 L37.0,410.2 L31.1,413.9 L25.2,416.1 L17.8,419.6 L12.4,421.4 L19.2,420.0 L26.6,417.6 L32.6,415.3 L37.0,412.4 L40.2,409.2 L35.5,406.2 L31.8,405.4 L28.9,404.4 L27.4,401.5 L24.4,396.3 L22.9,391.7 L23.5,389.3 L26.8,386.5 L29.7,385.0 L34.7,384.1 L36.7,382.6 L34.7,379.6 L30.7,376.7 L27.3,374.7 L24.8,373.2 L25.8,372.2 L31.7,371.2 L36.7,372.2 L37.6,370.7 L34.7,366.8 L31.7,363.8 Z" fill="#7ba3b6" stroke="#6f7f88" stroke-width="0.5"/>
<path d="M99.5,388.5 L100.9,387.7 L102.5,388.5 L101.5,389.8 L99.8,389.5 Z" fill="#e2e9f0" stroke="#7d8a90" stroke-width="0.7"/>
<path d="M105.2,384.7 L111.2,384.7 L112.2,386.3 L110.6,389.0 L107.4,389.5 L105.8,387.4 Z" fill="#e2e9f0" stroke="#7d8a90" stroke-width="0.7"/>
<path d="M123.5,393.3 L126.2,393.1 L130.5,395.5 L132.7,397.6 L130.5,398.1 L126.2,396.0 L124.1,394.9 Z" fill="#e2e9f0" stroke="#7d8a90" stroke-width="0.7"/>
<path d="M137.0,400.8 L144.5,400.3 L145.1,400.8 L138.1,401.7 Z" fill="#e2e9f0" stroke="#7d8a90" stroke-width="0.7"/>
<path d="M141.3,404.1 L144.0,404.3 L143.5,405.7 L141.8,405.4 Z" fill="#e2e9f0" stroke="#7d8a90" stroke-width="0.7"/>
<path d="M146.7,402.5 L149.9,403.0 L153.1,404.1 L154.8,406.2 L152.1,407.3 L149.4,406.8 L147.2,405.1 Z" fill="#e2e9f0" stroke="#7d8a90" stroke-width="0.7"/>
<path d="M144.0,408.4 L147.2,408.2 L147.4,409.0 L144.2,409.0 Z" fill="#e2e9f0" stroke="#7d8a90" stroke-width="0.7"/>
<path d="M156.9,412.7 L159.6,413.2 L163.9,417.0 L170.4,422.4 L169.8,424.5 L163.9,427.8 L158.5,431.0 L156.4,428.8 L155.8,422.4 L156.4,417.0 Z" fill="#e2e9f0" stroke="#7d8a90" stroke-width="0.7"/>
</g>
<!-- markers -->
<rect x="65.4" y="127.1" width="4.3" height="2.4" rx="1.1" fill="#111"/><circle cx="67.7" cy="128.3" r="0.55" fill="#ddd"/>
<path d="M576.3,212 l2.6,-1 l1.4,0.6 l-1.2,1.6 l-2.4,0.4 z" fill="#111"/>
<ellipse cx="384.5" cy="159.7" rx="1.8" ry="0.9" fill="#6f7f88" transform="rotate(-20 384.5 159.7)"/>
<line x1="428.2" y1="181.3" x2="430.6" y2="183" stroke="#333" stroke-width="0.8"/>
<!-- DC -->
<line x1="530.8" y1="265.1" x2="563.3" y2="289.6" stroke="#7a7f82" stroke-width="1.1"/>
<circle cx="572.4" cy="293.7" r="9" fill="#7ba3b6" stroke="#263845" stroke-width="1.6"/>
<text x="572.6" y="297.7" font-size="8.6" font-weight="bold" fill="#eef3f6" text-anchor="middle">DC</text>
<!-- right text -->
<g font-weight="bold" fill="#111">
<text x="558.3" y="334.8" font-size="18.7" textLength="134" lengthAdjust="spacingAndGlyphs">38 States + DC,</text>
<text x="558.3" y="354.7" font-size="16.3" textLength="160.8" lengthAdjust="spacingAndGlyphs">AS, USVI, &amp; PR have</text>
<text x="558.3" y="374.6" font-size="16.3" textLength="116.5" lengthAdjust="spacingAndGlyphs">mandatory Net</text>
<text x="558.3" y="394.3" font-size="16.3" textLength="111.5" lengthAdjust="spacingAndGlyphs">Metering rules</text>
</g>
<!-- legend -->
<text x="15.1" y="457.7" font-size="12.1" font-weight="bold" fill="#111" textLength="24.2" lengthAdjust="spacingAndGlyphs">KEY</text>
<rect x="15.6" y="459.2" width="23.2" height="1" fill="#111"/>
<rect x="13.6" y="464.1" width="16.1" height="16.8" fill="#7ba3b6"/>
<rect x="13.9" y="489.1" width="16.2" height="16.1" fill="url(#hatch2)" stroke="#7d8c93" stroke-width="1"/>
<rect x="12.3" y="513.9" width="17.3" height="16.1" fill="#e2e9f0"/>
<g fill="#111" font-size="10" stroke="#111" stroke-width="0.12">
<text x="31.6" y="476.2" textLength="372" lengthAdjust="spacingAndGlyphs">State-developed mandatory rules for certain utilities (38 states + DC+ 3 territories)</text>
<text x="32.2" y="501.2" textLength="349.5" lengthAdjust="spacingAndGlyphs">No statewide mandatory rules, but some utilities allow net metering (2 states)</text>
<text x="30" y="526.7" textLength="447.6" lengthAdjust="spacingAndGlyphs">Statewide distributed generation compensation rules other than net metering (7 states + 1 territory)</text>
</g>
<!-- territories -->
<text x="567.4" y="467.7" font-size="11" font-weight="bold" fill="#111" textLength="81.8" lengthAdjust="spacingAndGlyphs">U.S. Territories:</text>
<g fill="#7ba3b6" stroke="#3d4a52" stroke-width="1">
<rect x="567.8" y="477.9" width="29.4" height="18.4"/>
<rect x="605.8" y="477.9" width="29.4" height="18.4"/>
<rect x="567.8" y="501.6" width="29.4" height="17.6"/>
<rect x="605.8" y="501.6" width="29.4" height="17.6"/>
</g>
<g fill="#22313a" font-size="9.3" text-anchor="middle" stroke="#22313a" stroke-width="0.25">
<text x="581.2" y="490.4">AS</text>
<text x="619.6" y="490.4">PR</text>
<text x="579.6" y="513.7">VI</text>
<text x="620.1" y="513.7">GU</text>
</g>
<!-- bottom bar -->
<rect x="0" y="544" width="743" height="13" fill="#577d91"/>
</svg>
</body></html>
